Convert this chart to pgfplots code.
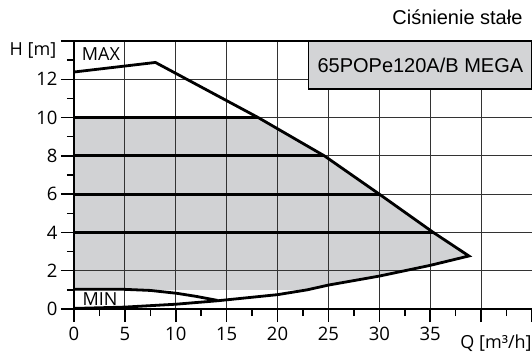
\documentclass[border=0pt]{standalone}
\usepackage{fontspec}
\usepackage{pgfplots}
\pgfplotsset{compat=1.18}
\setmainfont{Open Sans}
\newfontfamily\arialf{Liberation Sans}
\definecolor{fillgray}{HTML}{D1D2D4}
\definecolor{boxgray}{HTML}{D3D4D6}
\begin{document}
\begin{tikzpicture}
\begin{axis}[
  set layers,
  at={(0,0)}, anchor=south west,
  scale only axis, width=458pt, height=268pt,
  xmin=0, xmax=45, ymin=0, ymax=14,
  axis x line*=bottom, axis y line*=left,
  axis line style={line width=2.8pt, -},
  xtick={0,5,...,45}, xticklabels={0,5,10,15,20,25,30,35,,},
  ytick={0,2,...,14}, yticklabels={0,2,4,6,8,10,12,},
  minor x tick num=1, minor y tick num=1,
  tick align=outside,
  major tick length=13pt, minor tick length=7pt,
  every tick/.style={black, line width=1.5pt},
  grid=major, major grid style={black!80, line width=0.9pt},
  tick label style={font=\fontsize{18.5}{19}\selectfont},
  xticklabel style={yshift=-2pt},
  /pgf/number format/assume math mode=true,
  clip=false,
]
\addplot[fill=fillgray, draw=none, on layer=axis background] coordinates {
  (0,1) (0,10) (18.1,10) (24.6,8) (30,6) (35.3,4) (38.8,2.77)
  (35,2.28) (30,1.72) (25,1.25) (22.9,1.0)} -- cycle;
% constant pressure lines
\addplot[line width=2.8pt] coordinates {(0,10) (18.1,10)};
\addplot[line width=2.8pt] coordinates {(0,8) (24.6,8)};
\addplot[line width=2.8pt] coordinates {(0,6) (30,6)};
\addplot[line width=2.8pt] coordinates {(0,4) (35.3,4)};
% MAX and lower curve
\addplot[line width=2.8pt, line join=miter] coordinates {
  (0,12.38) (8,12.88) (18.1,10) (24.6,8) (30,6) (35.3,4) (38.8,2.77)
  (35,2.28) (30,1.72) (25,1.25) (22.9,1.0) (20,0.75) (14.1,0.43) (10,0.25) (5,0.1) (0,0.03)};
% MIN
\addplot[line width=2.8pt] coordinates {(0,1.03) (4.8,1.03) (7.5,0.97) (10.1,0.82) (12,0.66) (14.1,0.45)};
\draw[fill=boxgray, line width=1.4pt] (axis cs:23.05,11.5) rectangle (axis cs:45,14);
\draw[line width=2.8pt] (axis cs:0,14) -- (axis cs:45,14);
\node[font=\arialf\fontsize{20}{22}\selectfont] at (axis cs:34.03,12.75) {65POPe120A/B MEGA};
\end{axis}
\node[anchor=base east, font=\arialf\fontsize{20}{22}\selectfont] at (452pt,284pt) {Ciśnienie stałe};
\node[font=\fontsize{18}{19}\selectfont] at (-41pt,259pt) {H [m]};
\node[font=\fontsize{18}{19}\selectfont] at (422pt,-34pt) {Q [m³/h]};
\node[font=\fontsize{18}{19}\selectfont] at (27pt,255pt) {MAX};
\node[font=\fontsize{18}{19}\selectfont] at (26pt,10pt) {MIN};
\pgfresetboundingbox
\path (-74pt,-45pt) rectangle (458pt,309pt);
\end{tikzpicture}
\end{document}
